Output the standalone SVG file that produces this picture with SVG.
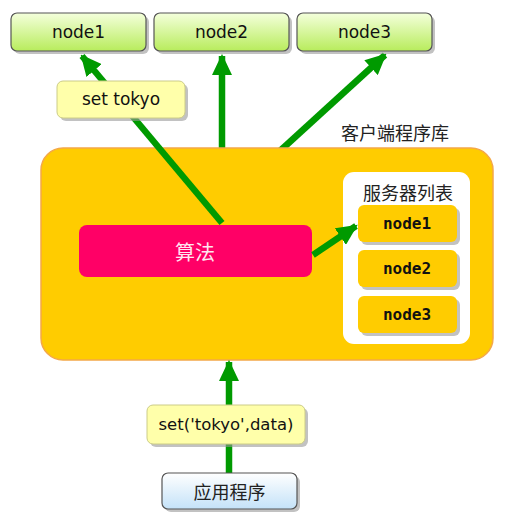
<svg xmlns="http://www.w3.org/2000/svg" width="514" height="522" viewBox="0 0 514 522">
<style>
.lat{font-family:"DejaVu Sans","Noto Sans",sans-serif;fill:#111;text-anchor:middle;dominant-baseline:central}
.cjk{font-family:"Noto Sans CJK SC","DejaVu Sans",sans-serif;fill:#222;text-anchor:middle;dominant-baseline:central}
.mono{font-family:"DejaVu Sans Mono","Liberation Mono",monospace;font-weight:bold;fill:#111;text-anchor:middle;dominant-baseline:central}
.shadow{fill:#999;opacity:0.6}
.arrow{stroke:#009a00;stroke-width:6.5;fill:none}
</style>
<defs>
<linearGradient id="gGreen" x1="0" y1="0" x2="0" y2="1">
<stop offset="0" stop-color="#f4ffdc"/>
<stop offset="1" stop-color="#b8ec5c"/>
</linearGradient>
<linearGradient id="gBlue" x1="0" y1="0" x2="0" y2="1">
<stop offset="0" stop-color="#ffffff"/>
<stop offset="1" stop-color="#c4e2f8"/>
</linearGradient>
<marker id="ah" viewBox="0 0 10 10" refX="9" refY="5" markerWidth="21" markerHeight="20" markerUnits="userSpaceOnUse" orient="auto" preserveAspectRatio="none">
<path d="M0,0 L10,5 L0,10 Z" fill="#009a00"/>
</marker>
</defs>

<g id="connectors-under">
<line class="arrow" x1="222" y1="160" x2="222" y2="56" marker-end="url(#ah)"/>
<line class="arrow" x1="270" y1="160" x2="385" y2="55" marker-end="url(#ah)"/>
</g>

<g id="client-library">
<rect x="41" y="148" width="452" height="212" rx="22" fill="#ffcc00" stroke="#f4a848" stroke-width="1.5"/>
<text class="cjk" x="395" y="132" font-size="18">客户端程序库</text>
</g>

<g id="server-list">
<rect x="343" y="172" width="127" height="172" rx="11" fill="#ffffff"/>
<text class="cjk" x="408" y="192" font-size="18">服务器列表</text>
</g>

<g id="slist-node1">
<rect class="shadow" x="361" y="208" width="99" height="37" rx="6"/>
<rect x="358" y="205" width="99" height="37" rx="6" fill="#ffcc00"/>
<text class="mono" x="407" y="223.5" font-size="16">node1</text>
</g>
<g id="slist-node2">
<rect class="shadow" x="361" y="253" width="99" height="37" rx="6"/>
<rect x="358" y="250" width="99" height="37" rx="6" fill="#ffcc00"/>
<text class="mono" x="407" y="268.5" font-size="16">node2</text>
</g>
<g id="slist-node3">
<rect class="shadow" x="361" y="299" width="99" height="37" rx="6"/>
<rect x="358" y="296" width="99" height="37" rx="6" fill="#ffcc00"/>
<text class="mono" x="407" y="314.5" font-size="16">node3</text>
</g>

<g id="algorithm">
<rect x="79" y="225" width="233" height="52" rx="8" fill="#ff0066"/>
<text class="cjk" x="195" y="251" font-size="20" style="fill:#ffe6f0">算法</text>
</g>

<g id="node1">
<rect class="shadow" x="14" y="16" width="135" height="38" rx="6"/>
<rect x="11" y="13" width="135" height="38" rx="6" fill="url(#gGreen)" stroke="#555" stroke-width="1.2"/>
<text class="lat" x="78.5" y="32" font-size="17">node1</text>
</g>
<g id="node2">
<rect class="shadow" x="157" y="16" width="135" height="38" rx="6"/>
<rect x="154" y="13" width="135" height="38" rx="6" fill="url(#gGreen)" stroke="#555" stroke-width="1.2"/>
<text class="lat" x="221.5" y="32" font-size="17">node2</text>
</g>
<g id="node3">
<rect class="shadow" x="300" y="16" width="135" height="38" rx="6"/>
<rect x="297" y="13" width="135" height="38" rx="6" fill="url(#gGreen)" stroke="#555" stroke-width="1.2"/>
<text class="lat" x="364.5" y="32" font-size="17">node3</text>
</g>

<g id="connectors">
<line class="arrow" x1="222" y1="223" x2="82" y2="56" marker-end="url(#ah)"/>
<line class="arrow" x1="313" y1="255" x2="356" y2="226" marker-end="url(#ah)"/>
<line class="arrow" x1="229" y1="473" x2="229" y2="362" marker-end="url(#ah)"/>
</g>

<g id="label-set-tokyo">
<rect class="shadow" x="60" y="84" width="128" height="37" rx="6"/>
<rect x="57" y="81" width="128" height="37" rx="6" fill="#ffffaa" stroke="#cccc88" stroke-width="1"/>
<text class="lat" x="121" y="99" font-size="17">set tokyo</text>
</g>

<g id="label-set-call">
<rect class="shadow" x="150" y="408" width="158" height="39" rx="6"/>
<rect x="147" y="405" width="158" height="39" rx="6" fill="#ffffaa" stroke="#cccc88" stroke-width="1"/>
<text class="lat" x="226" y="424" font-size="16.5">set('tokyo',data)</text>
</g>

<g id="application">
<rect class="shadow" x="165" y="476" width="135" height="36" rx="6"/>
<rect x="162" y="473" width="135" height="36" rx="6" fill="url(#gBlue)" stroke="#555" stroke-width="1.2"/>
<text class="cjk" x="229.5" y="491" font-size="18">应用程序</text>
</g>
</svg>
